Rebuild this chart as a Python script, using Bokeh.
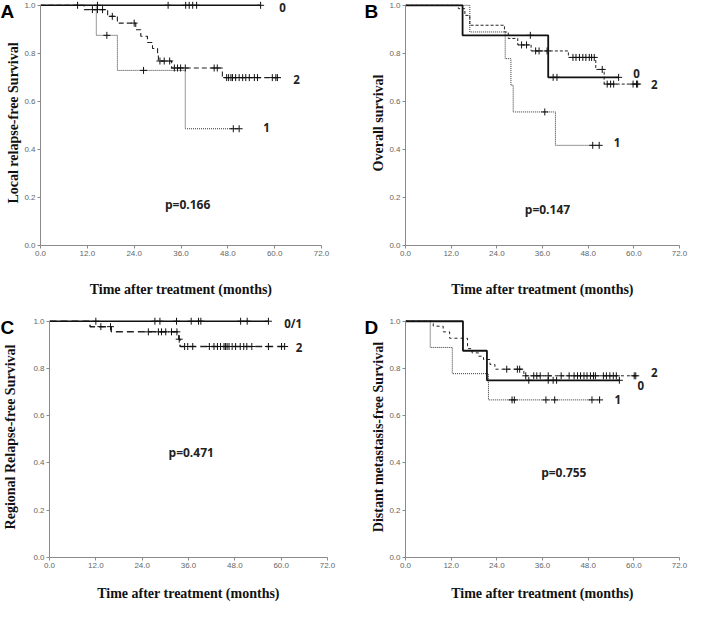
import numpy as np
from bokeh.plotting import figure
from bokeh.layouts import column, row
from bokeh.models import Range1d, FixedTicker, NumeralTickFormatter, Label
from bokeh.embed import file_html
from bokeh.resources import INLINE

X_TICKS = [0, 12, 24, 36, 48, 60, 72]
Y_TICKS = [0.0, 0.2, 0.4, 0.6, 0.8, 1.0]
X_LABEL = "Time after treatment (months)"

# ---------------- Panel A : Local relapse-free survival ----------------
A_g0_t = []
A_g0_s = []
A_g0_end = 56.4
A_g0_cens = [9.5, 14.6, 32.7, 37.2, 38.1, 39.0, 40.0, 56.4]

A_g1_t = [14.3, 19.7, 37.1]
A_g1_s = [0.875, 0.729, 0.486]
A_g1_end = 50.9
A_g1_cens = [17.0, 26.4, 49.4, 50.9]

A_g2_t = [11.2, 17.2, 19.7, 24.4, 25.7, 27.4, 28.7, 30.0, 30.2, 33.6, 46.6]
A_g2_s = [0.982, 0.954, 0.926, 0.898, 0.871, 0.845, 0.820, 0.795, 0.768, 0.739, 0.699]
A_g2_end = 61.6
A_g2_cens = [13.3, 14.6, 15.9, 18.4, 24.0, 30.6, 31.7, 33.1, 34.3, 35.1, 35.9, 37.1,
             44.5, 45.3, 47.7, 48.2, 48.8, 49.2, 50.0, 50.9, 51.8, 52.6, 53.5, 54.8,
             55.6, 59.4, 60.3, 60.7]
A_p = "p=0.166"

# ---------------- Panel B : Overall survival ----------------
B_g0_t = [15.0, 37.5]
B_g0_s = [0.875, 0.700]
B_g0_end = 56.0
B_g0_cens = [32.8, 38.8, 39.8, 56.0]

B_g1_t = [16.9, 26.2, 27.7, 28.3, 39.4]
B_g1_s = [0.889, 0.778, 0.667, 0.556, 0.417]
B_g1_end = 50.9
B_g1_cens = [36.6, 49.2, 50.9]

B_g2_t = [13.9, 15.6, 16.9, 26.0, 27.0, 29.5, 33.0, 42.8, 50.0, 52.2]
B_g2_s = [0.986, 0.958, 0.917, 0.889, 0.862, 0.835, 0.810, 0.783, 0.733, 0.672]
B_g2_end = 61.0
B_g2_cens = [30.5, 31.8, 34.2, 35.1, 37.2, 44.0, 44.8, 45.7, 46.6, 47.4, 48.3, 48.9,
             49.6, 51.7, 53.0, 53.9, 54.7, 59.8, 60.7, 61.0]
B_p = "p=0.147"

# ---------------- Panel C : Regional relapse-free survival ----------------
C_g0_t = []
C_g0_s = []
C_g0_end = 56.7
C_g0_cens = [12.0, 27.3, 28.6, 32.9, 36.7, 38.6, 39.2, 49.5, 51.2, 56.7]

C_g2_t = [10.5, 16.0, 33.5, 33.8]
C_g2_s = [0.977, 0.955, 0.924, 0.893]
C_g2_end = 61.0
C_g2_cens = [13.3, 15.8, 25.6, 28.2, 29.0, 30.1, 31.6, 33.0, 33.6, 35.0, 35.8, 37.1,
             41.4, 42.6, 43.5, 44.3, 45.2, 45.6, 46.0, 46.5, 47.3, 48.2, 49.4, 50.3,
             51.1, 52.4, 56.7, 60.1, 60.9]
C_p = "p=0.471"

# ---------------- Panel D : Distant metastasis-free survival ----------------
D_g0_t = [15.1, 21.4]
D_g0_s = [0.875, 0.750]
D_g0_end = 56.2
D_g0_cens = [32.4, 37.5, 38.8, 39.7, 56.2]

D_g1_t = [6.5, 12.3, 21.8]
D_g1_s = [0.889, 0.778, 0.667]
D_g1_end = 51.0
D_g1_cens = [28.0, 28.6, 36.9, 39.2, 49.0, 51.0]

D_g2_t = [7.3, 9.9, 11.6, 16.3, 17.5, 19.2, 20.5, 22.2, 23.5, 31.1]
D_g2_s = [0.979, 0.955, 0.928, 0.884, 0.866, 0.852, 0.838, 0.817, 0.797, 0.769]
D_g2_end = 60.5
D_g2_cens = [26.6, 29.4, 30.0, 31.6, 33.7, 34.5, 35.4, 37.5, 40.9, 43.0, 44.3, 45.2,
             46.0, 46.9, 47.7, 48.6, 49.4, 49.9, 52.0, 52.8, 53.7, 54.6, 55.4, 60.1, 60.5]
D_p = "p=0.755"


def km_xy(ev_t, ev_s, end):
    xs = [0.0] + list(ev_t) + [end]
    last = ev_s[-1] if len(ev_s) else 1.0
    ys = [1.0] + list(ev_s) + [last]
    return xs, ys


def surv_at(ev_t, ev_s, times):
    ev_t = np.asarray(ev_t, dtype=float)
    out = []
    for t in times:
        i = int(np.searchsorted(ev_t, t, side="right"))
        out.append(1.0 if i == 0 else ev_s[i - 1])
    return out


def add_curve(p, ev_t, ev_s, end, cens, dash, width, color):
    xs, ys = km_xy(ev_t, ev_s, end)
    p.step(xs, ys, mode="after", line_color=color, line_width=width, line_dash=dash)
    p.scatter(cens, surv_at(ev_t, ev_s, cens), marker="cross", size=7,
              line_color="#111111", line_width=1)


def txt(p, x, y, s, size="11.5px"):
    p.add_layout(Label(x=x, y=y, text=s, text_font="Open Sans", text_font_style="bold",
                       text_font_size=size, text_color="#222222",
                       text_align="center", text_baseline="middle"))


def make_panel(ylabel, width, height, bl, br, bb, y_stand, x_stand):
    p = figure(width=width, height=height, x_range=Range1d(0, 72), y_range=Range1d(0, 1.02),
               output_backend="svg", toolbar_location=None,
               min_border_left=bl, min_border_right=br, min_border_top=0, min_border_bottom=bb)
    p.outline_line_color = None
    p.xgrid.visible = False
    p.ygrid.visible = False
    p.background_fill_color = "white"
    p.border_fill_color = "white"
    p.xaxis.ticker = FixedTicker(ticks=X_TICKS)
    p.yaxis.ticker = FixedTicker(ticks=Y_TICKS)
    p.xaxis.formatter = NumeralTickFormatter(format="0.0")
    p.yaxis.formatter = NumeralTickFormatter(format="0.0")
    p.xaxis.bounds = (0, 72)
    p.yaxis.bounds = (0, 1)
    for ax in (p.xaxis[0], p.yaxis[0]):
        ax.axis_line_color = "#8a8a8a"
        ax.major_tick_line_color = "#8a8a8a"
        ax.minor_tick_line_color = None
        ax.major_tick_out = 3
        ax.major_tick_in = 0
        ax.major_label_text_font = "Liberation Sans"
        ax.major_label_text_font_size = "8px"
        ax.major_label_text_color = "#666666"
        ax.major_label_standoff = 2
        ax.axis_label_text_font = "Liberation Serif"
        ax.axis_label_text_font_style = "bold"
        ax.axis_label_text_font_size = "14px"
        ax.axis_label_text_color = "#111111"
    p.xaxis.axis_label = X_LABEL
    p.yaxis.axis_label = ylabel
    p.yaxis.axis_label_standoff = y_stand
    p.xaxis.axis_label_standoff = x_stand
    return p


def letter(p, x, s):
    # placed in a side panel so that it is not clipped to the data frame;
    # canvas units put it at the top-left corner of the panel's canvas
    p.add_layout(Label(x=x, y=0, x_units="canvas", y_units="canvas", text=s,
                       text_font="Liberation Sans", text_font_style="bold",
                       text_font_size="19px", text_color="#000000",
                       text_align="left", text_baseline="top"), "right")


# Panel A
pA = make_panel("Local relapse-free Survival", 343, 316, 40, 22, 71, 0, 23)
add_curve(pA, A_g1_t, A_g1_s, A_g1_end, A_g1_cens, "1 1", 1.0, "#333333")
add_curve(pA, A_g2_t, A_g2_s, A_g2_end, A_g2_cens, "5 3", 1.1, "#222222")
add_curve(pA, A_g0_t, A_g0_s, A_g0_end, A_g0_cens, "solid", 1.5, "#111111")
txt(pA, 62.0, 0.99, "0")
txt(pA, 65.6, 0.69, "2")
txt(pA, 57.9, 0.49, "1")
txt(pA, 37.7, 0.171, A_p, "12px")
letter(pA, 0, "A")

# Panel B
pB = make_panel("Overall survival", 350, 316, 62, 14, 71, 0, 23)
add_curve(pB, B_g1_t, B_g1_s, B_g1_end, B_g1_cens, "1 1", 1.0, "#333333")
add_curve(pB, B_g2_t, B_g2_s, B_g2_end, B_g2_cens, "3 2", 1.0, "#222222")
add_curve(pB, B_g0_t, B_g0_s, B_g0_end, B_g0_cens, "solid", 1.8, "#111111")
txt(pB, 60.7, 0.718, "0")
txt(pB, 65.4, 0.67, "2")
txt(pB, 55.6, 0.427, "1")
txt(pB, 37.3, 0.148, B_p, "12px")
letter(pB, 21, "B")

# Panel C
pC = make_panel("Regional Relapse-free Survival", 343, 288, 46, 16, 47, 12, 15)
add_curve(pC, C_g2_t, C_g2_s, C_g2_end, C_g2_cens, "7 4", 1.5, "#222222")
add_curve(pC, C_g0_t, C_g0_s, C_g0_end, C_g0_cens, "solid", 1.5, "#111111")
txt(pC, 63.1, 0.99, "0/1")
txt(pC, 64.6, 0.887, "2")
txt(pC, 36.7, 0.444, C_p, "12px")
letter(pC, 0, "C")

# Panel D
pD = make_panel("Distant metastasis-free Survival", 350, 288, 62, 14, 47, 0, 15)
add_curve(pD, D_g1_t, D_g1_s, D_g1_end, D_g1_cens, "1 1", 1.0, "#333333")
add_curve(pD, D_g2_t, D_g2_s, D_g2_end, D_g2_cens, "3 3", 1.0, "#222222")
add_curve(pD, D_g0_t, D_g0_s, D_g0_end, D_g0_cens, "solid", 1.8, "#111111")
txt(pD, 65.4, 0.783, "2")
txt(pD, 61.8, 0.73, "0")
txt(pD, 55.8, 0.669, "1")
txt(pD, 41.6, 0.361, D_p, "12px")
letter(pD, 21, "D")

layout = column(row(pA, pB), row(pC, pD))
open("out.html", "w").write(file_html(layout, INLINE))
